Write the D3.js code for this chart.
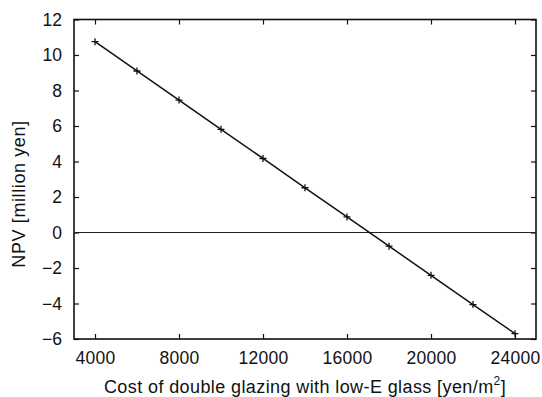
<!DOCTYPE html>
<html>
<head>
<meta charset="utf-8">
<script src="https://cdn.jsdelivr.net/npm/d3@7"></script>
<style>
  body { margin: 0; background: #fff; }
  svg { display: block; font-family: "Liberation Sans", Arial, sans-serif; }
</style>
</head>
<body>
<div id="chart"></div>
<script>
// cost of double glazing [yen/m2] vs NPV [million yen]
const costs = [4000, 6000, 8000, 10000, 12000, 14000, 16000, 18000, 20000, 22000, 24000];
const npv = [10.75, 9.10, 7.46, 5.81, 4.17, 2.52, 0.88, -0.77, -2.41, -4.06, -5.70];
const xTicks = [4000, 8000, 12000, 16000, 20000, 24000];
const yTicks = [-6, -4, -2, 0, 2, 4, 6, 8, 10, 12];

const width = 542, height = 397;
const marginTop = 19.5, marginRight = 6, marginBottom = 58, marginLeft = 74;

const x = d3.scaleLinear()
  .domain([3000, 25000])
  .range([marginLeft, width - marginRight]);

const y = d3.scaleLinear()
  .domain([-6, 12])
  .range([height - marginBottom, marginTop]);

const svg = d3.select("#chart").append("svg")
  .attr("width", width)
  .attr("height", height)
  .attr("viewBox", [0, 0, width, height]);

const tickLen = 5;

// bottom axis, ticks pointing inward
svg.append("g")
    .attr("transform", `translate(0,${y(-6)})`)
    .call(d3.axisBottom(x).tickValues(xTicks).tickSize(-tickLen).tickPadding(13).tickFormat(d3.format("d")))
    .call(g => g.select(".domain").remove())
    .call(g => g.selectAll("text").attr("font-size", 17.5).attr("letter-spacing", 0.3).attr("fill", "#111"))
    .call(g => g.selectAll(".tick line").attr("stroke", "#111").attr("stroke-width", 1.2));

// top mirror ticks
svg.append("g")
    .attr("transform", `translate(0,${y(12)})`)
    .call(d3.axisTop(x).tickValues(xTicks).tickSize(-tickLen).tickFormat(""))
    .call(g => g.select(".domain").remove())
    .call(g => g.selectAll(".tick line").attr("stroke", "#111").attr("stroke-width", 1.2));

// left axis
svg.append("g")
    .attr("transform", `translate(${x(3000)},0)`)
    .call(d3.axisLeft(y).tickValues(yTicks).tickSize(-tickLen).tickPadding(12))
    .call(g => g.select(".domain").remove())
    .call(g => g.selectAll("text").attr("font-size", 17.5).attr("fill", "#111"))
    .call(g => g.selectAll(".tick line").attr("stroke", "#111").attr("stroke-width", 1.2));

// right mirror ticks
svg.append("g")
    .attr("transform", `translate(${x(25000)},0)`)
    .call(d3.axisRight(y).tickValues(yTicks).tickSize(-tickLen).tickFormat(""))
    .call(g => g.select(".domain").remove())
    .call(g => g.selectAll(".tick line").attr("stroke", "#111").attr("stroke-width", 1.2));

// frame
svg.append("rect")
    .attr("x", x(3000))
    .attr("y", y(12))
    .attr("width", x(25000) - x(3000))
    .attr("height", y(-6) - y(12))
    .attr("fill", "none")
    .attr("stroke", "#111")
    .attr("stroke-width", 1.6);

// zero line
svg.append("line")
    .attr("x1", x(3000))
    .attr("x2", x(25000))
    .attr("y1", y(0))
    .attr("y2", y(0))
    .attr("stroke", "#222")
    .attr("stroke-width", 1.2);

const data = costs.map((c, i) => [c, npv[i]]);

svg.append("path")
    .datum(data)
    .attr("fill", "none")
    .attr("stroke", "#111")
    .attr("stroke-width", 1.5)
    .attr("d", d3.line().x(d => x(d[0])).y(d => y(d[1])));

// plus markers
svg.append("g")
    .selectAll("path")
    .data(data)
    .join("path")
      .attr("transform", d => `translate(${x(d[0])},${y(d[1])})`)
      .attr("d", "M-3.5,0H3.5M0,-3.5V3.5")
      .attr("stroke", "#111")
      .attr("stroke-width", 1.3);

// axis titles
const xTitle = svg.append("text")
    .attr("x", (x(3000) + x(25000)) / 2)
    .attr("y", 393)
    .attr("text-anchor", "middle")
    .attr("font-size", 18)
    .attr("letter-spacing", 0.4)
    .attr("fill", "#111");
xTitle.append("tspan").text("Cost of double glazing with low-E glass [yen/m");
xTitle.append("tspan").attr("font-size", 12).attr("dy", -8).text("2");
xTitle.append("tspan").attr("dy", 8).text("]");

svg.append("text")
    .attr("transform", `translate(25,194) rotate(-90)`)
    .attr("text-anchor", "middle")
    .attr("font-size", 18)
    .attr("letter-spacing", 0.6)
    .attr("fill", "#111")
    .text("NPV [million yen]");
</script>
</body>
</html>
